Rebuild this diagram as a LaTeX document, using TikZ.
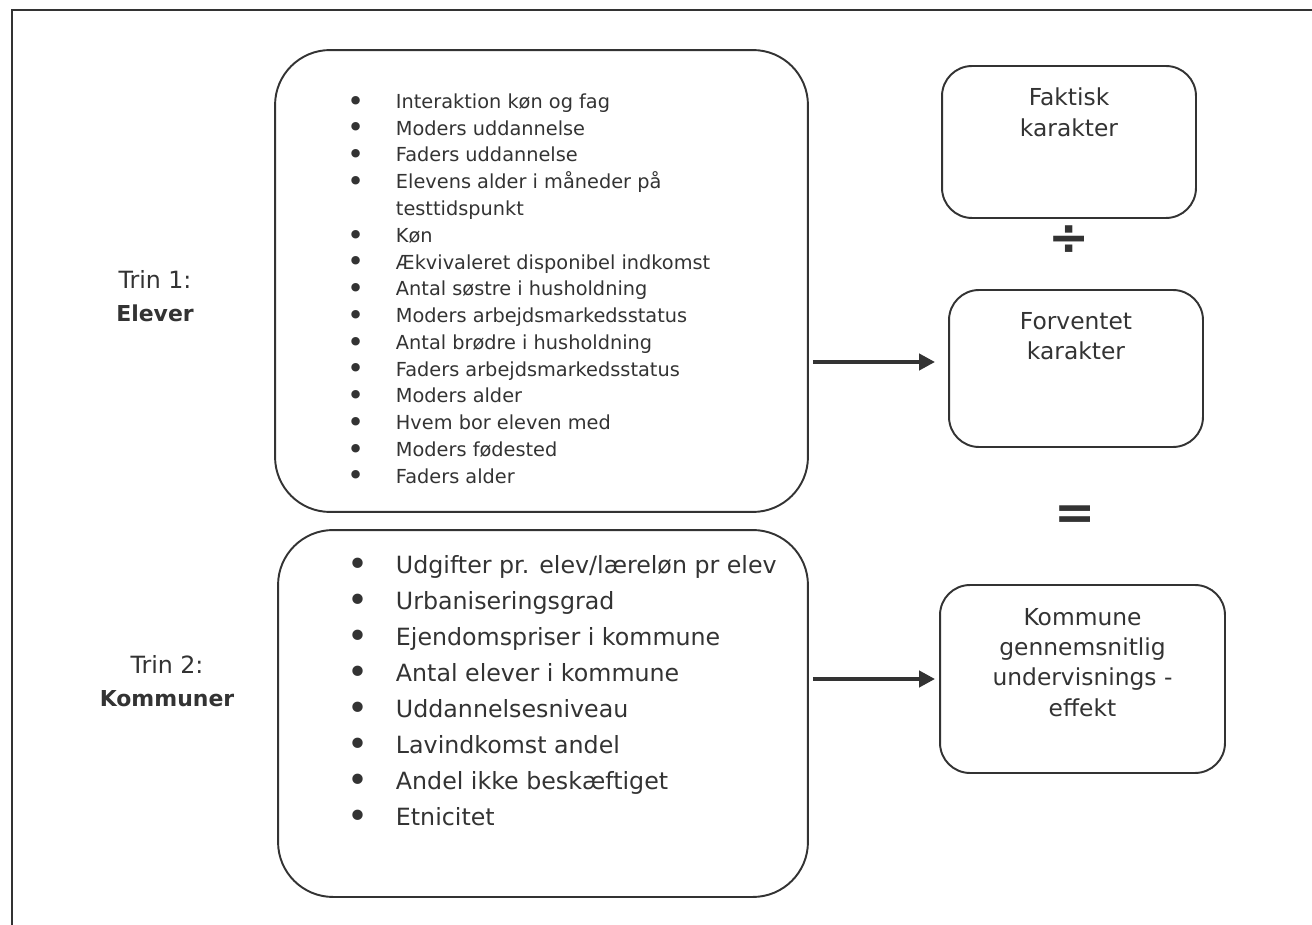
\documentclass[tikz,border=0pt]{standalone}
\usepackage{fontspec}
\usepackage{graphicx}
\setmainfont{DejaVu Sans}
\usetikzlibrary{arrows.meta,positioning}

\definecolor{ink}{HTML}{333333}
\newcommand{\bul}{\raisebox{-0.14em}{\scalebox{1.5}{\textbullet}}}

\begin{document}
\begin{tikzpicture}[x=0.02cm, y=-0.02cm, >={Triangle[length=0.32cm, width=0.32cm]}, line width=1.1pt, color=ink]
    % Styles
    \tikzstyle{listbox} = [rectangle, draw, rounded corners=1.1cm]
    \tikzstyle{listtext} = [anchor=west, inner sep=0pt]
    \tikzstyle{resbox} = [rectangle, draw, rounded corners=0.6cm, minimum width=5.08cm]
    \tikzstyle{restext} = [align=center, inner sep=0pt, font=\fontsize{13.3}{17.3}\selectfont]
    \tikzstyle{trin} = [align=center, font=\fontsize{13.5}{18.8}\selectfont]
    \tikzstyle{sign} = [font=\bfseries\fontsize{28}{28}\selectfont]
    \tikzstyle{line} = [draw, ->, line width=2.3pt, shorten <=0.08cm]

    \useasboundingbox (0,0) rectangle (1312,925);
    \draw (12,925) -- (12,10) -- (1312,10);

    % Trin labels
    \node [trin] (trin1) at (155,296.5) {Trin 1:\\{\fontsize{12.5}{18.8}\selectfont\textbf{Elever}}};
    \node [trin] (trin2) at (167,681.5) {Trin 2:\\{\fontsize{12.5}{18.8}\selectfont\textbf{Kommuner}}};

    % List boxes
    \node [listbox, minimum width=10.66cm, minimum height=9.24cm] (elever) at (541.5,281) {};
    \node [listbox, minimum width=10.6cm, minimum height=7.34cm] (kommuner) at (543,713.5) {};

    \node [listtext, font=\fontsize{11}{15.24}\selectfont] (eleverliste) at (347,290.5) {%
      \begin{tabular}{@{}p{0.96cm}@{}l@{}}
        \bul & Interaktion køn og fag\\
        \bul & Moders uddannelse\\
        \bul & Faders uddannelse\\
        \bul & Elevens alder i måneder på\\
             & testtidspunkt\\
        \bul & Køn\\
        \bul & Ækvivaleret disponibel indkomst\\
        \bul & Antal søstre i husholdning\\
        \bul & Moders arbejdsmarkedsstatus\\
        \bul & Antal brødre i husholdning\\
        \bul & Faders arbejdsmarkedsstatus\\
        \bul & Moders alder\\
        \bul & Hvem bor eleven med\\
        \bul & Moders fødested\\
        \bul & Faders alder
      \end{tabular}};
    \node [listtext, font=\fontsize{13.5}{20.5}\selectfont] (kommuneliste) at (347,692) {%
      \begin{tabular}{@{}p{0.96cm}@{}l@{}}
        \bul & Udgifter pr. elev/læreløn pr elev\\
        \bul & Urbaniseringsgrad\\
        \bul & Ejendomspriser i kommune\\
        \bul & Antal elever i kommune\\
        \bul & Uddannelsesniveau\\
        \bul & Lavindkomst andel\\
        \bul & Andel ikke beskæftiget\\
        \bul & Etnicitet
      \end{tabular}};

    % Result boxes
    \node [resbox, minimum height=3.04cm] (faktisk) at (1069,142) {};
    \node [restext, below=0.44cm of faktisk.north] (faktisktekst) {Faktisk\\karakter};
    \node [resbox, minimum height=3.14cm] (forventet) at (1076,368.5) {};
    \node [restext, below=0.44cm of forventet.north] (forventettekst) {Forventet\\karakter};
    \node [resbox, minimum width=5.7cm, minimum height=3.76cm] (effekt) at (1082.5,679) {};
    \node [restext, below=0.46cm of effekt.north] (effekttekst) {Kommune\\gennemsnitlig\\undervisnings -\\effekt};

    % Signs
    \node [sign] (delt) at (1069,240) {÷};
    \node [sign] (lig) at (1075,518) {=};

    % Arrows
    \path [line, shorten >=0.26cm] ([yshift=0.13cm]elever.east |- forventet.west) -- ([yshift=0.13cm]forventet.west);
    \path [line, shorten >=0.08cm] (kommuner.east |- effekt.west) -- (effekt.west);
\end{tikzpicture}
\end{document}
